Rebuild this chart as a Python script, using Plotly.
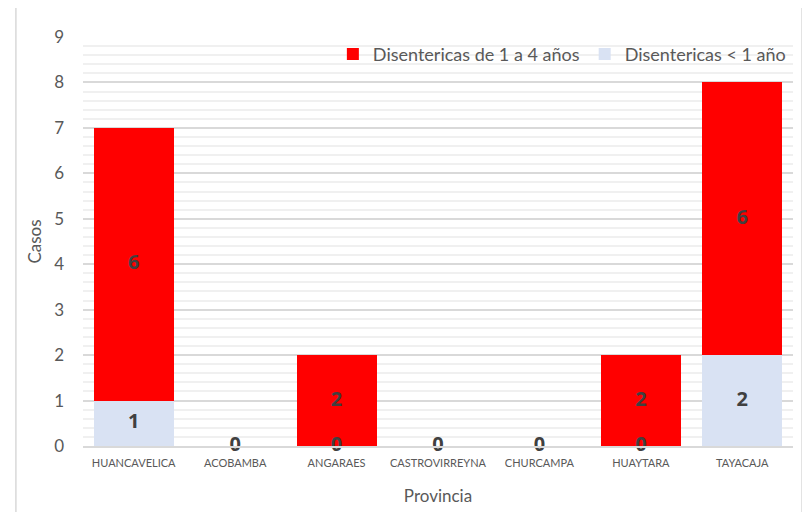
import plotly.graph_objects as go

provincias = ["HUANCAVELICA", "ACOBAMBA", "ANGARAES", "CASTROVIRREYNA", "CHURCAMPA", "HUAYTARA", "TAYACAJA"]
menor_1 = [1, 0, 0, 0, 0, 0, 2]
de_1_a_4 = [6, 0, 2, 0, 0, 2, 6]
y_ticks = [0, 1, 2, 3, 4, 5, 6, 7, 8, 9]

FONT = "Lato, Noto Sans, sans-serif"
LBL_FONT = "Noto Sans, sans-serif"
RED = "#FF0000"
BLUE = "#D9E2F3"
LBL = "#404040"

fig = go.Figure()
fig.add_trace(go.Bar(x=provincias, y=menor_1, name="Disentericas < 1 año",
                     marker=dict(color=BLUE, line=dict(width=0))))
fig.add_trace(go.Bar(x=provincias, y=de_1_a_4, name="Disentericas de 1 a 4 años",
                     marker=dict(color=RED, line=dict(width=0))))

# data labels at the middle of each segment (two coincident zero labels drawn once)
fig.add_trace(go.Scatter(x=provincias, y=[v / 2 for v in menor_1], mode="text",
                         text=[str(v) for v in menor_1], showlegend=False, hoverinfo="skip",
                         cliponaxis=False,
                         textfont=dict(family=LBL_FONT, size=20, color=LBL, weight="bold")))
fig.add_trace(go.Scatter(x=provincias, y=[a + b / 2 for a, b in zip(menor_1, de_1_a_4)], mode="text",
                         text=["" if (a == 0 and b == 0) else str(b) for a, b in zip(menor_1, de_1_a_4)],
                         showlegend=False, hoverinfo="skip", cliponaxis=False,
                         textfont=dict(family=LBL_FONT, size=20, color=LBL, weight="bold")))

fig.update_layout(
    barmode="stack",
    bargap=0.21,
    width=810, height=512,
    margin=dict(l=75, r=25, t=29, b=74),
    plot_bgcolor="white", paper_bgcolor="white",
    font=dict(family=FONT, color="#595959"),
    legend=dict(orientation="h", traceorder="reversed", x=0.997, xanchor="right", y=0.958, yanchor="middle",
                font=dict(size=18, color="#595959"), bgcolor="rgba(0,0,0,0)",
                itemwidth=30, itemsizing="constant", tracegroupgap=0),
    xaxis=dict(title=dict(text="Provincia", font=dict(size=17, color="#595959"), standoff=22),
               tickfont=dict(size=11, color="#595959"), showline=True, linecolor="#D9D9D9", linewidth=1.5,
               ticklabelstandoff=6, ticks="", automargin=False),
    yaxis=dict(title=dict(text="Casos", font=dict(size=17, color="#595959"), standoff=8),
               range=[0, 9], tickvals=y_ticks, tickfont=dict(size=17, color="#595959"),
               ticklabelstandoff=18,
               showgrid=True, gridcolor="#D9D9D9", gridwidth=1.5, zeroline=False,
               minor=dict(dtick=0.2, showgrid=True, gridcolor="#F0F0F0", gridwidth=1.5),
               ticks="", showline=False, automargin=False),
    shapes=[dict(type="rect", xref="paper", yref="paper", x0=-0.0945, x1=1.0127, y0=-0.2, y1=1.078,
                 line=dict(color="#D9D9D9", width=1.5), fillcolor="rgba(0,0,0,0)", layer="below")],
)

fig.write_html("out.html")
